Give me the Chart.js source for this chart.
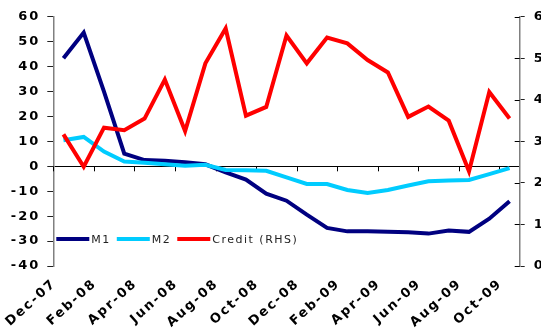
<!DOCTYPE html>
<html>
<head>
<meta charset="utf-8">
<script src="https://cdn.jsdelivr.net/npm/chart.js@4/dist/chart.umd.min.js"></script>
<style>
  html, body { margin: 0; padding: 0; background: #fff; overflow: hidden; }
  canvas { display: block; }
</style>
</head>
<body>
<canvas id="c" width="560" height="331"></canvas>
<script>
// Monthly categories
const months = ['Dec-07','Jan-08','Feb-08','Mar-08','Apr-08','May-08','Jun-08','Jul-08',
  'Aug-08','Sep-08','Oct-08','Nov-08','Dec-08','Jan-09','Feb-09','Mar-09','Apr-09',
  'May-09','Jun-09','Jul-09','Aug-09','Sep-09','Oct-09'];

// Series (left axis, %)
const m1 = [43.4, 53.7, 30.0, 5.1, 2.5, 2.2, 1.6, 0.8, -2.4, -5.3, -11.0, -13.8,
  -19.4, -24.7, -26.1, -26.1, -26.3, -26.5, -27.0, -25.8, -26.3, -21.0, -14.0];
const m2 = [10.5, 11.8, 5.9, 1.9, 1.4, 0.8, 0.2, 0.6, -1.5, -1.6, -1.8, -4.4,
  -7.1, -7.1, -9.5, -10.7, -9.5, -7.7, -6.0, -5.7, -5.5, -3.1, -0.7];
// Series (right axis)
const credit = [3.17, 2.39, 3.33, 3.27, 3.55, 4.49, 3.25, 4.88, 5.72, 3.62, 3.83, 5.55,
  4.88, 5.50, 5.36, 4.96, 4.66, 3.59, 3.84, 3.50, 2.28, 4.19, 3.55];

// Axis ranges
const leftRange = [-40, 60];
const rightRange = [0, 6];
const labelEvery = 2;

const seriesNames = ['M1', 'M2', 'Credit (RHS)'];
const seriesColors = ['#000080', '#00CCFF', '#FF0000'];

Chart.defaults.font.family = '"DejaVu Sans", Verdana, sans-serif';

const spacing = {
  id: 'spacing',
  beforeUpdate(chart) { chart.ctx.letterSpacing = '2px'; },
  beforeLayout(chart) { chart.ctx.letterSpacing = '2px'; },
  beforeDraw(chart) { chart.ctx.letterSpacing = '2px'; }
};

// Tick marks on the zero line and the inner half of the right-axis ticks
const axisDecor = {
  id: 'axisDecor',
  beforeDatasetsDraw(chart) {
    const { ctx, scales: { x, y, y1 } } = chart;
    const y0 = y.getPixelForValue(0);
    const band = (x.right - x.left) / months.length;
    ctx.save();
    ctx.strokeStyle = '#000';
    ctx.lineWidth = 1;
    ctx.beginPath();
    for (let i = 0; i < months.length; i += labelEvery) {
      const px = Math.round(x.getPixelForValue(i) - band / 2) + 0.5;
      ctx.moveTo(px, y0);
      ctx.lineTo(px, y0 + 5);
    }
    for (let v = rightRange[0]; v <= rightRange[1]; v++) {
      const py = Math.round(y1.getPixelForValue(v)) + 0.5;
      ctx.moveTo(y1.left - 5, py);
      ctx.lineTo(y1.left, py);
    }
    ctx.stroke();
    ctx.restore();
  }
};

// Single-row legend inside the plot area
const innerLegend = {
  id: 'innerLegend',
  afterDatasetsDraw(chart) {
    const { ctx, chartArea } = chart;
    ctx.save();
    ctx.font = '11px "DejaVu Sans"';
    ctx.letterSpacing = '1.5px';
    ctx.textBaseline = 'middle';
    ctx.textAlign = 'left';
    let lx = chartArea.left + 3;
    const ly = chartArea.bottom - 27;
    chart.data.datasets.forEach(ds => {
      ctx.fillStyle = ds.borderColor;
      ctx.fillRect(lx, ly - 2, 33, 4);
      const tx = lx + 35;
      ctx.fillStyle = '#222';
      ctx.fillText(ds.label, tx, ly + 1);
      lx = tx + ctx.measureText(ds.label).width + 6;
    });
    ctx.restore();
  }
};

const tickFont = { size: 13, weight: 'bold' };

new Chart(document.getElementById('c'), {
  type: 'line',
  data: {
    labels: months,
    datasets: [
      { label: seriesNames[0], data: m1, yAxisID: 'y', borderColor: seriesColors[0], order: 3 },
      { label: seriesNames[1], data: m2, yAxisID: 'y', borderColor: seriesColors[1], order: 2 },
      { label: seriesNames[2], data: credit, yAxisID: 'y1', borderColor: seriesColors[2], order: 1 }
    ]
  },
  options: {
    responsive: false,
    animation: false,
    devicePixelRatio: 1,
    layout: { padding: { top: 14, left: 0, right: 0, bottom: 0 } },
    elements: {
      line: { borderWidth: 4, tension: 0, fill: false, borderJoinStyle: 'miter', borderCapStyle: 'butt' },
      point: { radius: 0, hoverRadius: 0 }
    },
    plugins: { legend: { display: false }, tooltip: { enabled: false } },
    scales: {
      x: {
        type: 'category',
        offset: true,
        grid: { display: false, drawTicks: false },
        border: { display: false },
        ticks: {
          autoSkip: false,
          minRotation: 42,
          maxRotation: 42,
          padding: 10,
          labelOffset: -9,
          color: '#000',
          font: tickFont,
          callback: (v, i) => (i % labelEvery === 0 ? months[i] : '')
        },
        afterFit: s => { s.height = 65; }
      },
      y: {
        position: 'left',
        min: leftRange[0],
        max: leftRange[1],
        ticks: { stepSize: 10, padding: 7, color: '#000', font: tickFont },
        grid: {
          color: c => (c.tick && c.tick.value === 0 ? '#000' : 'rgba(0,0,0,0)'),
          tickColor: '#222',
          tickLength: 6,
          lineWidth: 1
        },
        border: { color: '#808080', width: 1.5 },
        afterFit: s => { s.width = 53.3; }
      },
      y1: {
        position: 'right',
        min: rightRange[0],
        max: rightRange[1],
        ticks: { stepSize: 1, padding: 9, color: '#000', font: tickFont },
        grid: { drawOnChartArea: false, tickColor: '#222', tickLength: 5 },
        border: { color: '#808080', width: 1.5 },
        afterFit: s => { s.width = 560 - 519.7; }
      }
    }
  },
  plugins: [spacing, axisDecor, innerLegend]
});
</script>
</body>
</html>
